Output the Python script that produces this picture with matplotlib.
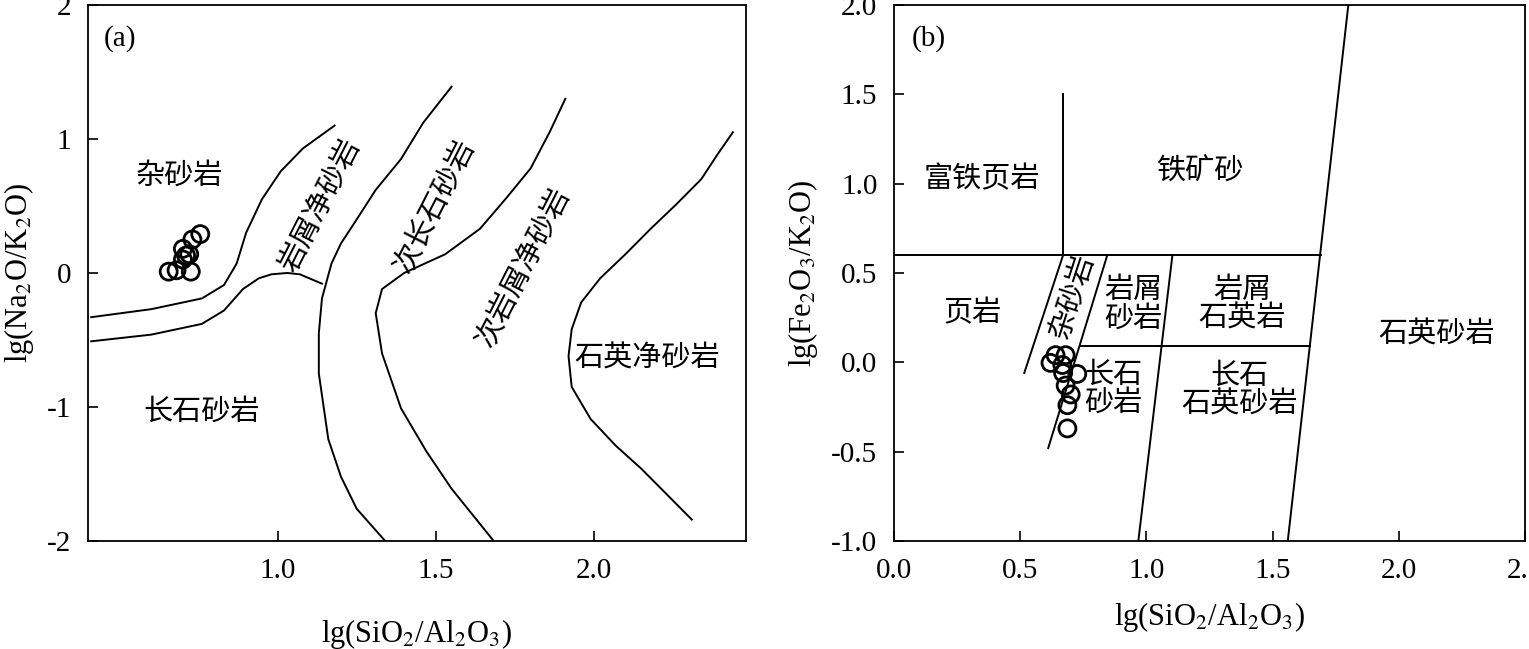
import matplotlib
matplotlib.use("Agg")
import matplotlib.pyplot as plt
import numpy as np

FAM = ['Liberation Serif', 'Noto Sans CJK SC']
plt.rcParams['font.family'] = FAM
plt.rcParams['mathtext.fontset'] = 'stix'
plt.rcParams['axes.unicode_minus'] = False

# ---- panel (a) boundaries
a_c1_x = [0.41, 0.60, 0.76, 0.83, 0.87, 0.90, 0.95, 1.01, 1.08, 1.18]
a_c1_y = [-0.33, -0.27, -0.19, -0.09, 0.07, 0.30, 0.55, 0.76, 0.93, 1.10]
a_c2_x = [0.41, 0.60, 0.76, 0.83, 0.89, 0.94, 0.98, 1.03, 1.07, 1.14]
a_c2_y = [-0.51, -0.46, -0.38, -0.28, -0.12, -0.04, -0.01, 0.00, -0.01, -0.08]
a_c3_x = [1.55, 1.46, 1.39, 1.31, 1.25, 1.20, 1.17, 1.14, 1.13, 1.13, 1.16, 1.20, 1.25, 1.34]
a_c3_y = [1.39, 1.12, 0.85, 0.62, 0.40, 0.22, 0.07, -0.19, -0.45, -0.75, -1.24, -1.52, -1.76, -2.0]
a_c4_x = [1.91, 1.86, 1.80, 1.72, 1.64, 1.53, 1.40, 1.33, 1.31, 1.33, 1.39, 1.47, 1.55, 1.68]
a_c4_y = [1.30, 1.05, 0.78, 0.55, 0.33, 0.14, 0.00, -0.12, -0.30, -0.60, -1.01, -1.33, -1.61, -1.99]
a_c5_x = [2.44, 2.39, 2.34, 2.26, 2.18, 2.10, 2.02, 1.96, 1.93, 1.92, 1.93, 1.99, 2.07, 2.15, 2.31]
a_c5_y = [1.05, 0.88, 0.70, 0.51, 0.33, 0.14, -0.04, -0.22, -0.42, -0.62, -0.85, -1.09, -1.29, -1.46, -1.84]
a_pts_x = [0.655, 0.68, 0.725, 0.70, 0.71, 0.70, 0.73, 0.755, 0.72]
a_pts_y = [0.01, 0.02, 0.01, 0.10, 0.13, 0.18, 0.25, 0.29, 0.14]

# ---- panel (b) boundaries (segments)
b_lines = [
    ([0.0, 1.69], [0.6, 0.6]),
    ([0.67, 0.67], [0.6, 1.5]),
    ([1.56, 1.80], [-1.0, 2.0]),
    ([0.738, 1.65], [0.09, 0.09]),
    ([1.103, 0.968], [0.6, -1.0]),
    ([0.67, 0.516], [0.6, -0.06]),
    ([0.845, 0.611], [0.6, -0.48]),
]
b_pts_x = [0.62, 0.64, 0.68, 0.667, 0.67, 0.726, 0.68, 0.70, 0.687, 0.687]
b_pts_y = [-0.003, 0.04, 0.04, -0.015, -0.06, -0.065, -0.13, -0.18, -0.24, -0.37]

fig = plt.figure(figsize=(15.29, 6.49), dpi=100)
axa = fig.add_axes([0.0576, 0.1664, 0.430, 0.826])
axb = fig.add_axes([0.5847, 0.1664, 0.4127, 0.826])

for ax in (axa, axb):
    ax.tick_params(direction='in', length=7, width=1.2, labelsize=21, top=False, right=False, pad=12)
    for s in ax.spines.values():
        s.set_linewidth(1.3)

lw = 1.4
for xs, ys in [(a_c1_x, a_c1_y), (a_c2_x, a_c2_y), (a_c3_x, a_c3_y), (a_c4_x, a_c4_y), (a_c5_x, a_c5_y)]:
    axa.plot(xs, ys, color='black', lw=lw)
axa.scatter(a_pts_x, a_pts_y, s=150, facecolors='none', edgecolors='black', linewidths=2, zorder=5)
axa.set_xlim(0.40, 2.48)
axa.set_ylim(-2, 2)
axa.set_xticks([1.0, 1.5, 2.0])
axa.set_xticklabels(['1.0', '1.5', '2.0'])
axa.set_yticks([-2, -1, 0, 1, 2])
axa.set_xlabel('lg(SiO$_2$/Al$_2$O$_3$)', fontsize=22, labelpad=24)
axa.set_ylabel('lg(Na$_2$O/K$_2$O)', fontsize=22, labelpad=8)
tk = dict(fontsize=21, ha='center', va='center')
axa.text(0.45, 1.75, '(a)', fontsize=21, ha='left', va='center')
axa.text(0.69, 0.72, '杂砂岩', **tk)
axa.text(0.76, -1.04, '长石砂岩', **tk)
axa.text(2.17, -0.64, '石英净砂岩', **tk)
axa.text(1.135, 0.50, '岩屑净砂岩', rotation=63, **tk)
axa.text(1.50, 0.50, '次长石砂岩', rotation=63, **tk)
axa.text(1.78, 0.04, '次岩屑净砂岩', rotation=63, **tk)

for xs, ys in b_lines:
    axb.plot(xs, ys, color='black', lw=lw)
axb.scatter(b_pts_x, b_pts_y, s=150, facecolors='none', edgecolors='black', linewidths=2, zorder=5)
axb.set_xlim(0, 2.5)
axb.set_ylim(-1.0, 2.0)
axb.set_xticks([0, 0.5, 1.0, 1.5, 2.0, 2.5])
axb.set_xticklabels(['0.0', '0.5', '1.0', '1.5', '2.0', '2.5'])
axb.set_yticks([-1.0, -0.5, 0.0, 0.5, 1.0, 1.5, 2.0])
axb.set_yticklabels(['-1.0', '-0.5', '0.0', '0.5', '1.0', '1.5', '2.0'])
axb.set_xlabel('lg(SiO$_2$/Al$_2$O$_3$)', fontsize=22, labelpad=12)
axb.set_ylabel('lg(Fe$_2$O$_3$/K$_2$O)', fontsize=22, labelpad=8)
axb.text(0.07, 1.81, '(b)', fontsize=21, ha='left', va='center')
axb.text(0.35, 1.02, '富铁页岩', **tk)
axb.text(1.21, 1.07, '铁矿砂', **tk)
axb.text(0.31, 0.27, '页岩', **tk)
axb.text(0.71, 0.37, '杂砂岩', rotation=72, **tk)
axb.text(0.95, 0.32, '岩屑\n砂岩', linespacing=1.05, **tk)
axb.text(1.38, 0.32, '岩屑\n石英岩', linespacing=1.05, **tk)
axb.text(0.87, -0.15, '长石\n砂岩', linespacing=1.05, **tk)
axb.text(1.37, -0.16, '长石\n石英砂岩', linespacing=1.05, **tk)
axb.text(2.15, 0.15, '石英砂岩', **tk)

fig.savefig('out.png', dpi=100)
